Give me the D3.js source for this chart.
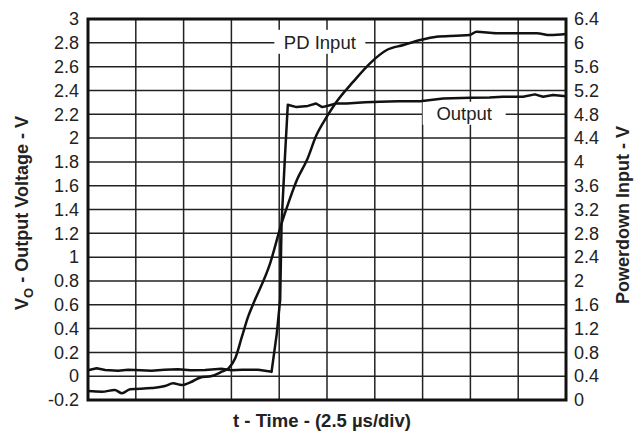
<!DOCTYPE html>
<html>
<head>
<meta charset="utf-8">
<script src="https://cdn.jsdelivr.net/npm/d3@7"></script>
<style>
	body { margin: 0; background: #fff; }
	text { font-family: Arial, "Liberation Sans", sans-serif; fill: #222; }
</style>
</head>
<body>
<div id="chart"></div>
<script>
// time axis is in scope divisions (2.5 us/div), 10 divisions across
var divTicks = [0, 1, 2, 3, 4, 5, 6, 7, 8, 9, 10];

var leftTicks = [-0.2, 0, 0.2, 0.4, 0.6, 0.8, 1, 1.2, 1.4, 1.6, 1.8, 2, 2.2, 2.4, 2.6, 2.8, 3];
var leftTickLabels = ["-0.2", "0", "0.2", "0.4", "0.6", "0.8", "1", "1.2", "1.4", "1.6", "1.8", "2", "2.2", "2.4", "2.6", "2.8", "3"];
var rightTicks = [0, 0.4, 0.8, 1.2, 1.6, 2, 2.4, 2.8, 3.2, 3.6, 4, 4.4, 4.8, 5.2, 5.6, 6, 6.4];
var rightTickLabels = ["0", "0.4", "0.8", "1.2", "1.6", "2", "2.4", "2.8", "3.2", "3.6", "4", "4.4", "4.8", "5.2", "5.6", "6", "6.4"];

// Output voltage, left axis (V)
var outputTime = [0, 0.18, 0.36, 0.63, 0.84, 1.1, 1.33, 1.6, 1.88, 2.15, 2.45, 2.79, 3.0, 3.22, 3.56, 3.81, 3.84,
	3.95, 4.02, 4.05, 4.12, 4.18, 4.36, 4.6, 4.77, 4.9, 5.0, 5.19, 5.41, 5.8, 6.11, 6.5, 6.95, 7.43, 8.0, 8.4,
	8.68, 9.1, 9.35, 9.52, 9.73, 10];
var outputVolts = [0.05, 0.066, 0.052, 0.046, 0.054, 0.05, 0.046, 0.054, 0.058, 0.05, 0.052, 0.062, 0.05, 0.054, 0.054, 0.04, 0.036,
	0.36, 0.64, 1.29, 1.84, 2.28, 2.26, 2.27, 2.29, 2.26, 2.27, 2.29, 2.29, 2.3, 2.305, 2.31, 2.31, 2.333, 2.338, 2.34,
	2.347, 2.347, 2.367, 2.347, 2.361, 2.352];

// Powerdown input, right axis (V)
var pdTime = [0, 0.29, 0.56, 0.71, 0.88, 1.33, 1.61, 1.78, 1.96, 2.17, 2.34, 2.59, 2.8, 2.94, 3.08, 3.22, 3.35, 3.46,
	3.81, 4.05, 4.19, 4.37, 4.58, 4.78, 4.99, 5.2, 5.55, 5.9, 6.25, 6.6, 6.95, 7.29, 7.71, 7.99, 8.13, 8.55, 8.83,
	9.11, 9.39, 9.67, 10];
var pdVolts = [0.15, 0.139, 0.168, 0.113, 0.18, 0.2, 0.235, 0.28, 0.252, 0.307, 0.375, 0.403, 0.475, 0.532, 0.7, 1.063, 1.4, 1.62,
	2.296, 2.968, 3.304, 3.696, 4.03, 4.45, 4.75, 5.01, 5.347, 5.656, 5.879, 5.963, 6.047, 6.103, 6.12, 6.131, 6.187, 6.16, 6.16,
	6.16, 6.16, 6.131, 6.148];

var width = 637, height = 439,
	margin = {top: 19, right: 71, bottom: 39, left: 88};

function drawChart() {
	var svg = d3.select("#chart").append("svg")
		.attr("width", width)
		.attr("height", height);

	var x = d3.scaleLinear().domain([0, 10]).range([margin.left, width - margin.right]);
	var yLeft = d3.scaleLinear().domain([-0.2, 3]).range([height - margin.bottom, margin.top]);
	var yRight = d3.scaleLinear().domain([0, 6.4]).range([height - margin.bottom, margin.top]);

	// grid
	svg.append("g").selectAll("line.v")
		.data(divTicks)
		.enter().append("line")
		.attr("x1", function (d) { return x(d); })
		.attr("x2", function (d) { return x(d); })
		.attr("y1", yLeft(-0.2))
		.attr("y2", yLeft(3))
		.attr("stroke", "#222")
		.attr("stroke-width", 1.5);
	svg.append("g").selectAll("line.h")
		.data(leftTicks)
		.enter().append("line")
		.attr("x1", x(0))
		.attr("x2", x(10))
		.attr("y1", function (d) { return yLeft(d); })
		.attr("y2", function (d) { return yLeft(d); })
		.attr("stroke", "#222")
		.attr("stroke-width", 1.5);

	// left and right axes, labels only
	var leftAxis = d3.axisLeft(yLeft).tickValues(leftTicks).tickSize(0).tickPadding(9)
		.tickFormat(function (d, i) { return leftTickLabels[i]; });
	var gl = svg.append("g").attr("transform", "translate(" + margin.left + ",0)").call(leftAxis);
	var rightAxis = d3.axisRight(yRight).tickValues(rightTicks).tickSize(0).tickPadding(8)
		.tickFormat(function (d, i) { return rightTickLabels[i]; });
	var gr = svg.append("g").attr("transform", "translate(" + (width - margin.right) + ",0)").call(rightAxis);
	[gl, gr].forEach(function (g) {
		g.select(".domain").remove();
		g.selectAll("text")
			.style("font-family", "Arial, 'Liberation Sans', sans-serif")
			.style("font-size", "18px")
			.attr("fill", "#222");
	});

	// curve labels sit on a white box that breaks the grid
	function addLabel(txt, cx, cy, w, h) {
		svg.append("rect")
			.attr("x", cx - w / 2)
			.attr("y", cy - h / 2 - 1)
			.attr("width", w)
			.attr("height", h)
			.attr("fill", "#fff");
		svg.append("text")
			.attr("x", cx)
			.attr("y", cy + 6)
			.attr("text-anchor", "middle")
			.style("font-size", "18.5px")
			.text(txt);
	}
	addLabel("PD Input", x(4.85), yLeft(2.8), 91, 24);
	addLabel("Output", x(7.87), yLeft(2.2), 83, 23);

	// traces
	var outLine = d3.line()
		.x(function (d, i) { return x(outputTime[i]); })
		.y(function (d) { return yLeft(d); });
	svg.append("path")
		.datum(outputVolts)
		.attr("d", outLine)
		.attr("fill", "none")
		.attr("stroke", "#111")
		.attr("stroke-width", 2.5)
		.attr("stroke-linejoin", "round");

	var pdLine = d3.line()
		.curve(d3.curveMonotoneX)
		.x(function (d, i) { return x(pdTime[i]); })
		.y(function (d) { return yRight(d); });
	svg.append("path")
		.datum(pdVolts)
		.attr("d", pdLine)
		.attr("fill", "none")
		.attr("stroke", "#111")
		.attr("stroke-width", 2.5)
		.attr("stroke-linejoin", "round");

	// frame
	svg.append("rect")
		.attr("x", x(0))
		.attr("y", yLeft(3))
		.attr("width", x(10) - x(0))
		.attr("height", yLeft(-0.2) - yLeft(3))
		.attr("fill", "none")
		.attr("stroke", "#111")
		.attr("stroke-width", 3);

	// axis titles
	var leftTitle = svg.append("text")
		.attr("transform", "translate(28," + 213 + ") rotate(-90)")
		.attr("text-anchor", "middle")
		.style("font-size", "18px")
		.style("font-weight", "bold");
	leftTitle.append("tspan").text("V");
	leftTitle.append("tspan").attr("dy", 5).style("font-size", "13px").text("O");
	leftTitle.append("tspan").attr("dy", -5).text(" - Output Voltage - V");

	svg.append("text")
		.attr("transform", "translate(629," + 215 + ") rotate(-90)")
		.attr("text-anchor", "middle")
		.style("font-size", "18px")
		.style("font-weight", "bold")
		.text("Powerdown Input - V");

	svg.append("text")
		.attr("x", 322)
		.attr("y", 427)
		.attr("text-anchor", "middle")
		.style("font-size", "18.5px")
		.style("font-weight", "bold")
		.text("t - Time - (2.5 \u00b5s/div)");
}

drawChart();
</script>
</body>
</html>
